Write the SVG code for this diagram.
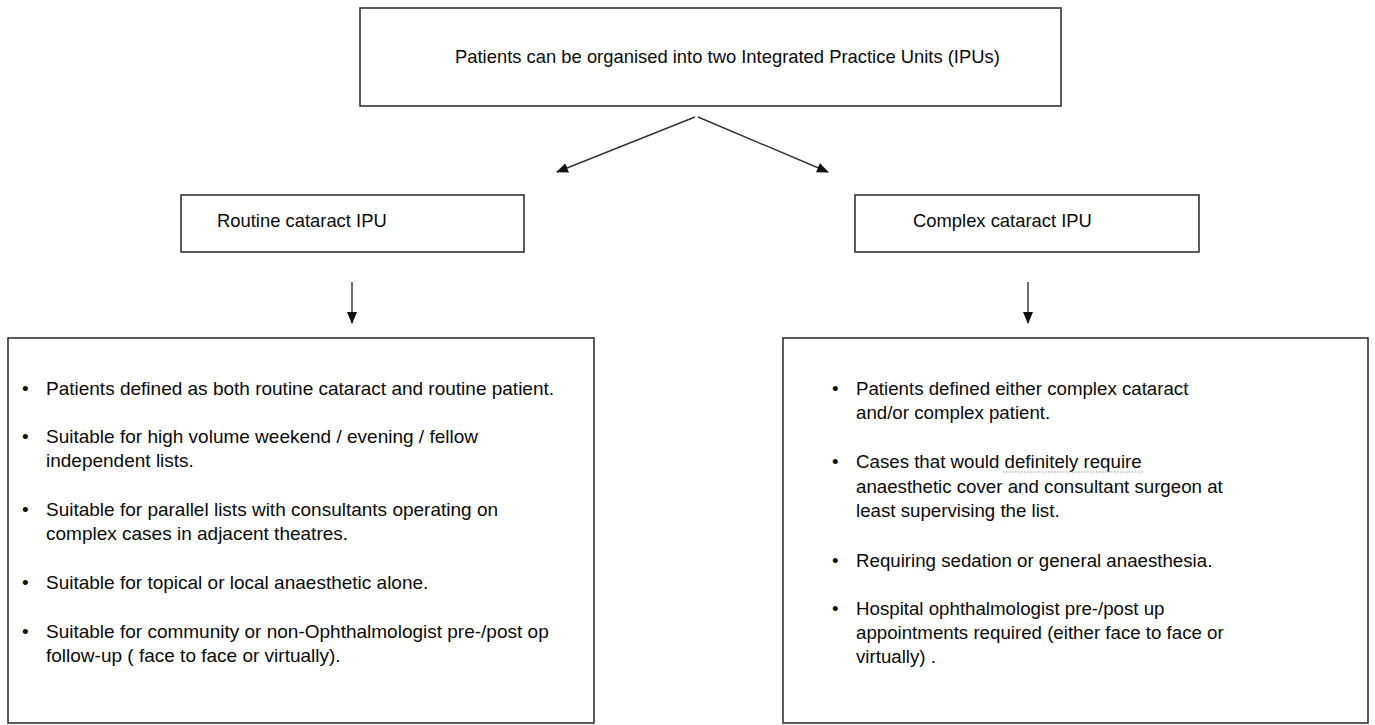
<svg xmlns="http://www.w3.org/2000/svg" width="1375" height="725" viewBox="0 0 1375 725">
<style>
.box{fill:#fff;stroke:#333;stroke-width:1.6}
.t{font-family:"Liberation Sans",Arial,sans-serif;font-size:18.4px;fill:#0a0a0a}
.l{font-size:19px}
.r{font-size:18.7px}
.c{stroke:#333;stroke-width:1.4;fill:none;marker-end:url(#ah)}
</style>
<defs>
<marker id="ah" markerUnits="userSpaceOnUse" markerWidth="12" markerHeight="10" viewBox="0 0 12 10" refX="11" refY="5" orient="auto">
<path d="M0,0 L12,5 L0,10 Z" fill="#111"/>
</marker>
</defs>
<rect width="1375" height="725" fill="#fff"/>
<g id="top">
<rect class="box" x="360" y="8" width="701" height="98"/>
<text class="t" x="455" y="63">Patients can be organised into two Integrated Practice Units (IPUs)</text>
</g>
<g id="routine">
<rect class="box" x="181" y="195" width="343" height="57"/>
<text class="t" x="217" y="227">Routine cataract IPU</text>
</g>
<g id="complex">
<rect class="box" x="855" y="195" width="344" height="57"/>
<text class="t" x="913" y="227">Complex cataract IPU</text>
</g>
<g id="routine-details">
<rect class="box" x="8" y="338" width="586" height="385"/>
<text class="t l">
<tspan x="22" y="395">•</tspan><tspan x="46" y="395">Patients defined as both routine cataract and routine patient.</tspan>
<tspan x="22" y="443">•</tspan><tspan x="46" y="443">Suitable for high volume weekend / evening / fellow</tspan>
<tspan x="46" y="467">independent lists.</tspan>
<tspan x="22" y="516">•</tspan><tspan x="46" y="516">Suitable for parallel lists with consultants operating on</tspan>
<tspan x="46" y="540">complex cases in adjacent theatres.</tspan>
<tspan x="22" y="589">•</tspan><tspan x="46" y="589">Suitable for topical or local anaesthetic alone.</tspan>
<tspan x="22" y="638">•</tspan><tspan x="46" y="638">Suitable for community or non-Ophthalmologist pre-/post op</tspan>
<tspan x="46" y="662">follow-up ( face to face or virtually).</tspan>
</text>
</g>
<g id="complex-details">
<rect class="box" x="783" y="338" width="585" height="385"/>
<text class="t r">
<tspan x="832" y="395">•</tspan><tspan x="856" y="395">Patients defined either complex cataract</tspan>
<tspan x="856" y="419">and/or complex patient.</tspan>
<tspan x="832" y="468">•</tspan><tspan x="856" y="468">Cases that would definitely require</tspan>
<tspan x="856" y="493">anaesthetic cover and consultant surgeon at</tspan>
<tspan x="856" y="517">least supervising the list.</tspan>
<tspan x="832" y="567">•</tspan><tspan x="856" y="567">Requiring sedation or general anaesthesia.</tspan>
<tspan x="832" y="615">•</tspan><tspan x="856" y="615">Hospital ophthalmologist pre-/post up</tspan>
<tspan x="856" y="639">appointments required (either face to face or</tspan>
<tspan x="856" y="663">virtually) .</tspan>
</text>
<line x1="1003" y1="472" x2="1144" y2="472" stroke="#999" stroke-width="1.2" stroke-dasharray="1.5,1.5"/>
</g>
<g id="connectors">
<line class="c" x1="695" y1="117" x2="557" y2="172"/>
<line class="c" x1="698" y1="117" x2="828" y2="172"/>
<line class="c" x1="352" y1="282" x2="352" y2="323"/>
<line class="c" x1="1028" y1="282" x2="1028" y2="323"/>
</g>
</svg>
